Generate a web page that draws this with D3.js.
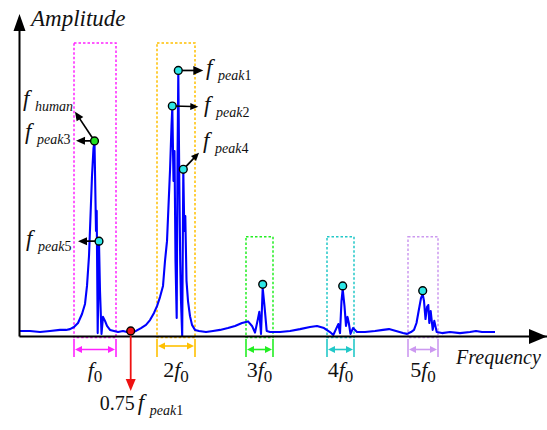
<!DOCTYPE html>
<html>
<head>
<meta charset="utf-8">
<script src="https://cdn.jsdelivr.net/npm/d3@7"></script>
</head>
<body style="margin:0">
<svg id="chart" width="547" height="430"></svg>
<script>
// spectrum (frequency in Hz, amplitude normalised to peak 1)
const freq = [
  0, 0.275, 0.525, 0.775, 1.025, 1.175, 1.275, 1.375, 1.475, 1.575,
  1.65, 1.70, 1.75, 1.7875, 1.825, 1.8625, 1.8875, 1.925, 1.9425, 1.9675,
  2.0, 2.025, 2.0625, 2.1, 2.15, 2.2, 2.275, 2.375, 2.475, 2.6,
  2.7, 2.8, 2.925, 3.05, 3.175, 3.275, 3.375, 3.45, 3.525, 3.6,
  3.65, 3.7, 3.7375, 3.775, 3.8125, 3.8325, 3.8625, 3.8875, 3.9125, 3.9425,
  3.9625, 3.9825, 4.0075, 4.03, 4.05, 4.08, 4.1075, 4.1325, 4.1575, 4.1875,
  4.225, 4.275, 4.325, 4.4, 4.5, 4.675, 4.85, 5.025, 5.225, 5.4,
  5.575, 5.725, 5.825, 5.9, 5.9625, 6.0075, 6.05, 6.0925, 6.1375, 6.1925,
  6.275, 6.375, 6.525, 6.775, 7.025, 7.275, 7.45, 7.625, 7.775, 7.8575,
  7.925, 7.9825, 8.025, 8.0625, 8.0925, 8.1375, 8.175, 8.2125, 8.245, 8.2875,
  8.35, 8.45, 8.65, 8.9, 9.1, 9.25, 9.425, 9.6, 9.7, 9.8,
  9.875, 9.9375, 10.0, 10.05, 10.0925, 10.125, 10.1625, 10.2, 10.2325, 10.2575,
  10.2925, 10.3425, 10.3825, 10.4425, 10.575, 10.775, 11.025, 11.275, 11.425, 11.575,
  11.775, 11.9
];
const amp = [
  0.019, 0.019, 0.015, 0.019, 0.023, 0.023, 0.026, 0.034, 0.049, 0.083,
  0.121, 0.189, 0.302, 0.453, 0.604, 0.709, 0.732, 0.396, 0.472, 0.011,
  0.355, 0.170, 0.008, 0.072, 0.057, 0.038, 0.023, 0.019, 0.015, 0.019,
  0.015, 0.013, 0.019, 0.030, 0.042, 0.060, 0.087, 0.113, 0.147, 0.189,
  0.283, 0.358, 0.491, 0.623, 0.792, 0.864, 0.585, 0.698, 0.283, 0.068,
  0.660, 0.996, 0.585, 0.283, 0.132, 0.000, 0.626, 0.396, 0.453, 0.208,
  0.132, 0.075, 0.042, 0.023, 0.019, 0.015, 0.019, 0.023, 0.030, 0.038,
  0.049, 0.055, 0.038, 0.013, 0.057, 0.091, 0.008, 0.181, 0.113, 0.019,
  0.015, 0.015, 0.015, 0.019, 0.026, 0.034, 0.038, 0.030, 0.015, 0.004,
  0.026, 0.045, 0.011, 0.132, 0.177, 0.113, 0.038, 0.072, 0.049, 0.008,
  0.030, 0.015, 0.015, 0.019, 0.023, 0.026, 0.019, 0.011, 0.008, 0.015,
  0.023, 0.049, 0.102, 0.143, 0.158, 0.132, 0.064, 0.109, 0.117, 0.049,
  0.094, 0.023, 0.057, 0.015, 0.011, 0.015, 0.011, 0.015, 0.019, 0.015,
  0.015, 0.015
];

// marked points: peak1, peak2, peak4, human(peak3), peak5, 3f0, 4f0, 5f0, minimum
const markFreq = [3.9825, 3.8325, 4.1075, 1.8875, 2.0, 6.0925, 8.0925, 10.0925, 2.7925];
const markAmp  = [1.002, 0.868, 0.629, 0.736, 0.358, 0.195, 0.189, 0.171, 0.019];
const markType = ["peak", "peak", "peak", "human", "peak", "peak", "peak", "peak", "min"];

// harmonic search windows
const harmonic = [1, 2, 3, 4, 5];
const winLo  = [1.375, 3.45, 5.675, 7.7, 9.725];
const winHi  = [2.425, 4.4, 6.35, 8.375, 10.475];
const winTop = [1.106, 1.106, 0.375, 0.375, 0.375];

const winColor = ["#ff22ff", "#ffc000", "#22ee22", "#22c8c8", "#cc99f0"];
const dotColor = { peak: "#2ee6e6", human: "#22dd22", min: "#ee1111" };

const svg = d3.select("#chart");
const x = d3.scaleLinear().domain([0, 13.2]).range([19, 547]);
const y = d3.scaleLinear().domain([0, 1.2]).range([336, 18]);

function label(g, px, py, size, italic) {
  const t = g.append("text").attr("x", px).attr("y", py)
    .attr("font-size", size)
    .attr("font-family", "Liberation Serif")
    .style("font-family", `"Liberation Serif"`)
    .attr("fill", "#111");
  if (italic) t.style("font-style", "italic");
  return t;
}

function tri(g, tx, ty, ang, len, hw, color) {
  const c = Math.cos(ang), s = Math.sin(ang);
  const bx = tx - len * c, by = ty - len * s;
  g.append("path")
    .attr("d", `M${tx},${ty}L${bx - hw * s},${by + hw * c}L${bx + hw * s},${by - hw * c}Z`)
    .attr("fill", color);
}

function arrow(g, x1, y1, x2, y2, color, len, hw, sw) {
  const ang = Math.atan2(y2 - y1, x2 - x1);
  g.append("line")
    .attr("x1", x1).attr("y1", y1)
    .attr("x2", x2 - len * 0.8 * Math.cos(ang)).attr("y2", y2 - len * 0.8 * Math.sin(ang))
    .attr("stroke", color).attr("stroke-width", sw);
  tri(g, x2, y2, ang, len, hw, color);
}

// dotted windows
const windows = harmonic.map((h, i) => ({ h, lo: winLo[i], hi: winHi[i], top: winTop[i], color: winColor[i] }));
svg.append("g").selectAll("rect")
  .data(windows)
  .join("rect")
  .attr("x", d => x(d.lo))
  .attr("y", d => y(d.top))
  .attr("width", d => x(d.hi) - x(d.lo))
  .attr("height", d => y(-0.006) - y(d.top))
  .attr("fill", "none")
  .attr("stroke", d => d.color)
  .attr("stroke-width", 1.5)
  .attr("stroke-dasharray", "2.5,2");

// spectrum
const spectrum = d3.zip(freq, amp);
svg.append("path")
  .datum(spectrum)
  .attr("fill", "none")
  .attr("stroke", "#0000ff")
  .attr("stroke-width", 2.1)
  .attr("stroke-linejoin", "round")
  .attr("d", d3.line().x(d => x(d[0])).y(d => y(d[1])));

// axes (no ticks, arrow ends)
svg.append("g")
  .attr("transform", `translate(0,${y(0)})`)
  .call(d3.axisBottom(x).tickValues([]).tickSizeOuter(0))
  .call(g => g.select(".domain").attr("stroke", "#000").attr("stroke-width", 2));
svg.append("g")
  .attr("transform", `translate(${x(0)},0)`)
  .call(d3.axisLeft(y).tickValues([]).tickSizeOuter(0))
  .call(g => g.select(".domain").attr("stroke", "#000").attr("stroke-width", 2));
tri(svg, x(0) + 0.5, 14, -Math.PI / 2, 17, 6, "#000");
tri(svg, 547, y(0) + 0.5, 0, 18, 7.5, "#000");

label(svg, 31, 26, 23, true).text("Amplitude");
label(svg, 456, 364, 20, true).text("Frequency");

// window brackets and labels
const brk = svg.append("g");
windows.forEach((d, i) => {
  const by = i === 1 ? 346 : 349.5;
  const x0 = x(d.lo), x1 = x(d.hi);
  [x0, x1].forEach(xx => brk.append("line")
    .attr("x1", xx).attr("x2", xx).attr("y1", 339).attr("y2", 357)
    .attr("stroke", d.color).attr("stroke-width", 1.6));
  brk.append("line").attr("x1", x0 + 4).attr("x2", x1 - 4).attr("y1", by).attr("y2", by)
    .attr("stroke", d.color).attr("stroke-width", 1.6);
  tri(brk, x0 + 1, by, Math.PI, 7, 3.5, d.color);
  tri(brk, x1 - 1, by, 0, 7, 3.5, d.color);

  const t = label(brk, (x0 + x1) / 2, 377, 22, false).attr("text-anchor", "middle");
  if (d.h > 1) t.append("tspan").text(d.h);
  t.append("tspan").style("font-style", "italic").text("f");
  t.append("tspan").attr("font-size", 17).attr("dy", 5).text("0");
});

// annotation arrows and labels
const ann = svg.append("g");
const notes = [
  { m: 0, tx: 25, ty: 0, len: 10, hw: 4.5, lx: 27.7, ly: 5, sub: "peak", num: "1" },
  { m: 1, tx: 26, ty: 0.7, len: 8, hw: 3.5, lx: 31.7, ly: 6.5, sub: "peak", num: "2" },
  { m: 2, tx: 15.7, ty: -16.6, len: 8, hw: 3.5, lx: 19.7, ly: -21.3, sub: "peak", num: "4" },
  { m: 3, tx: -19.5, ty: -29.3, len: 9, hw: 4, lx: -71.5, ly: -35, sub: "human", num: "" },
  { m: 3, tx: -18.5, ty: -0.3, len: 9, hw: 4, lx: -69.5, ly: -2, sub: "peak", num: "3" },
  { m: 4, tx: -21, ty: 0, len: 9, hw: 4, lx: -73, ly: 5, sub: "peak", num: "5" }
];
notes.forEach(l => {
  const mx = x(markFreq[l.m]), my = y(markAmp[l.m]);
  arrow(ann, mx, my, mx + l.tx, my + l.ty, "#000", l.len, l.hw, 1.7);
  label(ann, mx + l.lx, my + l.ly, 23, true).text("f");
  const s = label(ann, mx + l.lx + 12, my + l.ly + 5, 14, false);
  s.append("tspan").style("font-style", "italic").text(l.sub);
  if (l.num) s.append("tspan").text(l.num);
});

// minimum between f0 and 2f0
const minX = x(markFreq[8]), minY = y(markAmp[8]);
arrow(ann, minX, minY, minX, 391, "#ee1111", 12, 5, 1.8);
label(ann, minX - 31, 410, 20, false).text("0.75");
label(ann, minX + 7, 410, 23, true).text("f");
const ms = label(ann, minX + 19, 415, 14, false);
ms.append("tspan").style("font-style", "italic").text("peak");
ms.append("tspan").text("1");

// marker dots
svg.append("g").selectAll("circle")
  .data(d3.zip(markFreq, markAmp, markType))
  .join("circle")
  .attr("cx", d => x(d[0]))
  .attr("cy", d => y(d[1]))
  .attr("r", 3.9)
  .attr("fill", d => dotColor[d[2]])
  .attr("stroke", "#000")
  .attr("stroke-width", 1.4);
</script>
</body>
</html>
